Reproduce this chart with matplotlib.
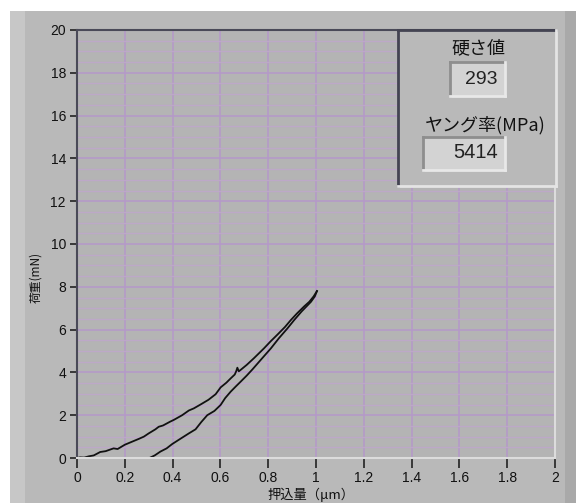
import matplotlib
matplotlib.use("Agg")
import matplotlib.pyplot as plt
from matplotlib.patches import Rectangle
from matplotlib.lines import Line2D

# loading curve (indentation depth um, load mN)
load_x = [0, 0.013, 0.03, 0.05, 0.07, 0.097, 0.12, 0.153, 0.17, 0.20, 0.23,
          0.26, 0.28, 0.30, 0.328, 0.342, 0.36, 0.39, 0.405, 0.44, 0.468,
          0.489, 0.52, 0.55, 0.58, 0.601, 0.625, 0.643, 0.66, 0.666, 0.671,
          0.677, 0.685, 0.71, 0.74, 0.782, 0.81, 0.84, 0.87, 0.895, 0.92,
          0.95, 0.972, 0.99, 1.004]
load_y = [0, 0.03, 0.02, 0.08, 0.12, 0.28, 0.32, 0.45, 0.42, 0.62, 0.76,
          0.9, 1.0, 1.15, 1.34, 1.46, 1.52, 1.7, 1.78, 2.0, 2.22,
          2.32, 2.52, 2.72, 2.98, 3.30, 3.52, 3.72, 3.90, 4.05, 4.22,
          4.05, 4.12, 4.35, 4.66, 5.12, 5.45, 5.78, 6.12, 6.45, 6.75,
          7.08, 7.30, 7.55, 7.80]

# unloading curve
unload_x = [0.303, 0.325, 0.349, 0.375, 0.398, 0.43, 0.468, 0.496, 0.52,
            0.545, 0.575, 0.601, 0.62, 0.643, 0.665, 0.685, 0.71, 0.734,
            0.77, 0.811, 0.845, 0.88, 0.909, 0.94, 0.979, 0.995, 1.004]
unload_y = [0, 0.12, 0.30, 0.45, 0.65, 0.88, 1.15, 1.34, 1.68,
            2.0, 2.2, 2.48, 2.8, 3.1, 3.35, 3.57, 3.85, 4.14,
            4.6, 5.12, 5.6, 6.05, 6.45, 6.85, 7.30, 7.55, 7.80]

x_ticks = [0, 0.2, 0.4, 0.6, 0.8, 1, 1.2, 1.4, 1.6, 1.8, 2]
x_tick_labels = ["0", "0.2", "0.4", "0.6", "0.8", "1", "1.2", "1.4", "1.6", "1.8", "2"]
y_ticks = [0, 2, 4, 6, 8, 10, 12, 14, 16, 18, 20]

hardness = "293"
young_modulus = "5414"

W, H = 576, 503
JP = ["Noto Sans CJK JP", "DejaVu Sans"]
NUM = ["Liberation Sans", "DejaVu Sans"]
PANEL = "#b9b9b9"


def fx(x):
    return x / W


def fy(y):
    return 1 - y / H


def frect(fig, x0, y0, x1, y1, color, z=0):
    fig.add_artist(Rectangle((fx(x0), fy(y1)), fx(x1 - x0), (y1 - y0) / H,
                             transform=fig.transFigure, facecolor=color,
                             edgecolor="none", zorder=z))


def fline(fig, xs, ys, color, lw=1.5, z=1):
    fig.add_artist(Line2D([fx(v) for v in xs], [fy(v) for v in ys],
                          transform=fig.transFigure, color=color, lw=lw,
                          zorder=z))


def sunken(fig, x0, y0, x1, y1, face, dark, light, z=2):
    frect(fig, x0, y0, x1, y1, face, z)
    fline(fig, [x0, x1], [y0, y0], dark, 2, z + 0.1)
    fline(fig, [x0, x0], [y0, y1], dark, 2, z + 0.1)
    fline(fig, [x1, x1], [y0, y1], light, 2, z + 0.1)
    fline(fig, [x0, x1], [y1, y1], light, 2, z + 0.1)


fig = plt.figure(figsize=(W / 100, H / 100), dpi=100, facecolor="white")
frect(fig, 10, 11, W, H, PANEL, -2)
frect(fig, 10, 11, 25, H, "#c7c7c7", -1)
frect(fig, 565, 11, W, H, "#a9a9a9", -1)

ax = fig.add_axes([fx(77), fy(458), fx(555 - 77), (458 - 30) / H])
ax.set_facecolor("#b4b4b4")
ax.plot(load_x, load_y, color="#111111", lw=1.3)
ax.plot(unload_x, unload_y, color="#111111", lw=1.3)

ax.set_xlim(0, 2)
ax.set_ylim(0, 20)
ax.set_xticks(x_ticks)
ax.set_xticklabels(x_tick_labels)
ax.set_yticks(y_ticks)
ax.set_yticks([v + k * 0.5 for v in y_ticks[:-1] for k in (1, 2, 3)], minor=True)
ax.tick_params(axis="y", which="minor", length=0)
ax.tick_params(axis="x", length=7, width=1.2, pad=2, color="#222222")
ax.tick_params(axis="y", length=5, width=1.2, pad=3, color="#222222")
for lab in ax.get_xticklabels() + ax.get_yticklabels():
    lab.set_family(NUM)
    lab.set_fontsize(10)
    lab.set_color("#111111")

ax.grid(True, which="major", axis="x", color="#b49ac8", lw=1.2)
ax.grid(True, which="major", axis="y", color="#b49ac8", lw=1.2)
ax.grid(True, which="minor", axis="y", color="#bda8c8", lw=1.0)
ax.set_axisbelow(True)

for side, col in (("left", "#4a4a58"), ("top", "#4a4a58"),
                  ("right", "#dcdcdc"), ("bottom", "#dcdcdc")):
    ax.spines[side].set_color(col)
    ax.spines[side].set_linewidth(1.5)

fig.text(fx(36), fy(277), "荷重(mN)", rotation=90, ha="center", va="center",
         family=JP, fontsize=8.5, color="#111111")
fig.text(fx(311), fy(495), "押込量（μm）", ha="center", va="center",
         family=JP, fontsize=9.5, color="#111111")

# result panel
sunken(fig, 398, 30, 556, 186, PANEL, "#444452", "#e4e4e4", z=3)
fig.text(fx(478), fy(48), "硬さ値", ha="center", va="center", family=JP,
         fontsize=13, color="#111111", zorder=5)
sunken(fig, 450, 62, 505, 96, "#d3d3d3", "#8e8e8e", "#e8e8e8", z=4)
fig.text(fx(498), fy(79), hardness, ha="right", va="center", family=NUM,
         fontsize=14, color="#222222", zorder=6)
fig.text(fx(485), fy(125), "ヤング率(MPa)", ha="center", va="center",
         family=JP, fontsize=13, color="#111111", zorder=5)
sunken(fig, 423, 137, 505, 170, "#d3d3d3", "#8e8e8e", "#e8e8e8", z=4)
fig.text(fx(498), fy(153), young_modulus, ha="right", va="center",
         family=NUM, fontsize=14.5, color="#222222", zorder=6)

fig.savefig("out.png", dpi=100, facecolor=fig.get_facecolor())
